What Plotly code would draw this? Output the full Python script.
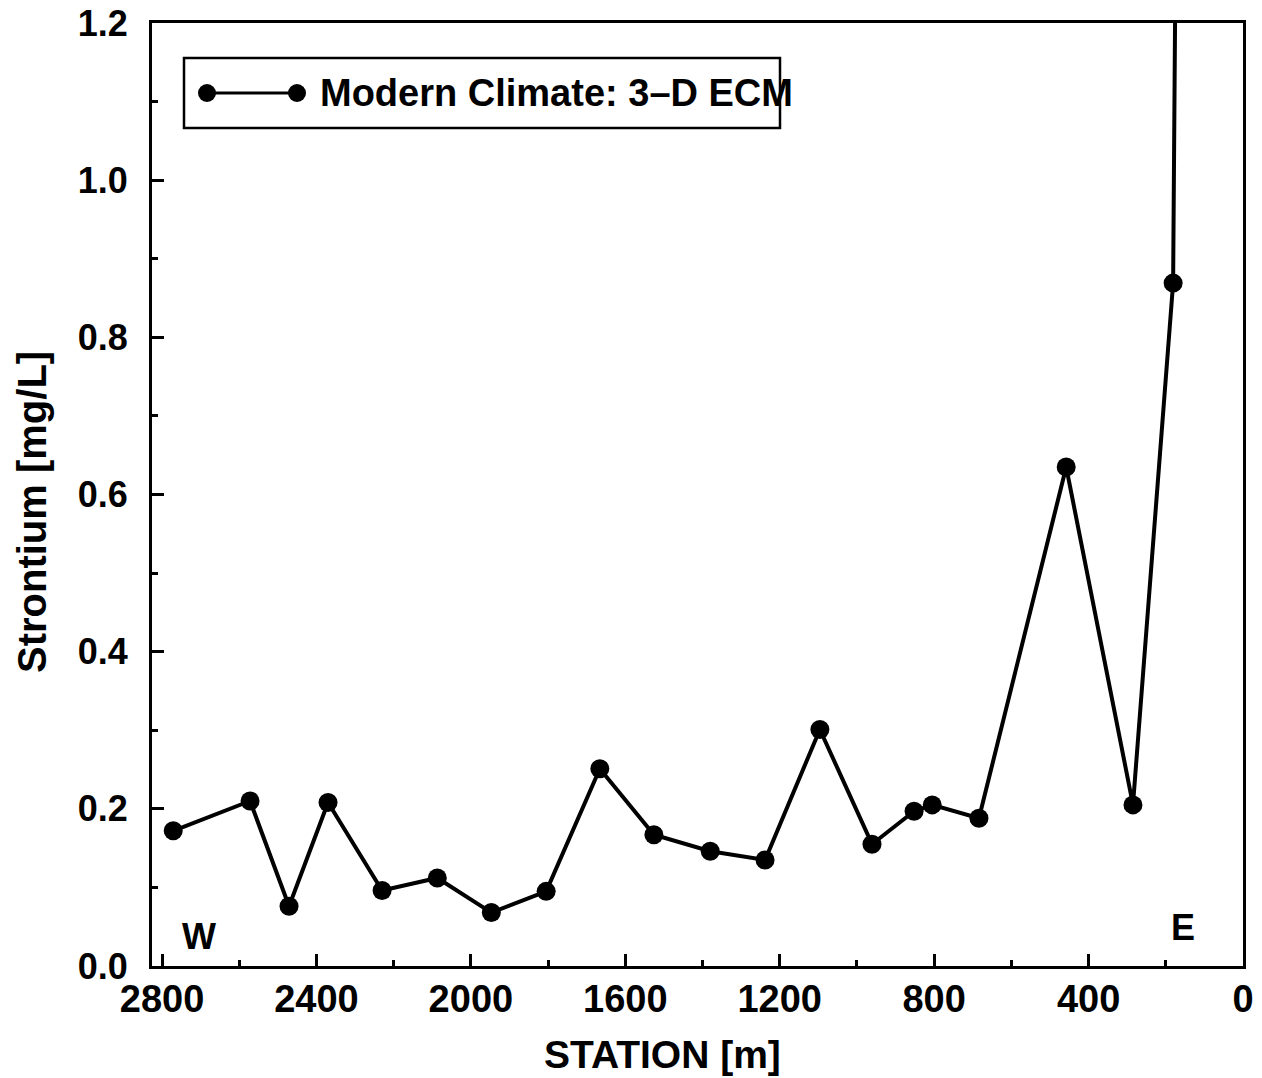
import plotly.graph_objects as go

station_m = [2771, 2572, 2471, 2370, 2230, 2087, 1947, 1805, 1666, 1526, 1380,
             1238, 1096, 961, 852, 805, 684, 458, 285, 181, 170]
strontium_mgL = [0.172, 0.210, 0.076, 0.208, 0.096, 0.112, 0.068, 0.095, 0.251,
                 0.167, 0.146, 0.135, 0.301, 0.155, 0.197, 0.205, 0.188, 0.635,
                 0.205, 0.869, 1.60]
series_name = "Modern Climate: 3\u2013D ECM"
x_tickvals = [2800, 2400, 2000, 1600, 1200, 800, 400, 0]
y_tickvals = [0.0, 0.2, 0.4, 0.6, 0.8, 1.0, 1.2]

FONT = "Liberation Sans, Arial, Helvetica, sans-serif"

fig = go.Figure()
fig.add_trace(go.Scatter(
    x=station_m, y=strontium_mgL, mode="lines+markers", name=series_name,
    line=dict(color="black", width=4),
    marker=dict(color="black", size=19),
    showlegend=False,
))

L, R, T, B = 152, 19, 23, 112
W, H = 1262, 1078
pw, ph = W - L - R, H - T - B

def px(xpix):
    return (xpix - L) / pw

def py(ypix):
    return (H - B - ypix) / ph

fig.update_layout(
    width=W, height=H,
    margin=dict(l=L, r=R, t=T, b=B, pad=0, autoexpand=False),
    paper_bgcolor="white", plot_bgcolor="white",
    font=dict(family=FONT, color="black"),
    xaxis=dict(
        range=[2826, 0], tickvals=x_tickvals, ticktext=[str(v) for v in x_tickvals],
        ticks="inside", ticklen=12, tickwidth=2.5, tickcolor="black",
        minor=dict(dtick=200, ticks="inside", ticklen=6, tickwidth=2.5, tickcolor="black"),
        showline=True, linewidth=3, linecolor="black", mirror=True,
        showgrid=False, zeroline=False, automargin=False,
        tickfont=dict(family=FONT, size=38, color="black", weight="bold"),
        ticklabelstandoff=-3,
    ),
    yaxis=dict(
        range=[0, 1.2], tickvals=y_tickvals, tickformat=".1f",
        ticks="inside", ticklen=12, tickwidth=2.5, tickcolor="black",
        minor=dict(dtick=0.1, ticks="inside", ticklen=6, tickwidth=2.5, tickcolor="black"),
        showline=True, linewidth=3, linecolor="black", mirror=True,
        showgrid=False, zeroline=False, automargin=False,
        tickfont=dict(family=FONT, size=36, color="black", weight="bold"),
        ticklabelstandoff=14,
    ),
)

# axis titles
fig.add_annotation(text="<b>STATION [m]</b>", x=px(662), y=py(1054), xref="paper", yref="paper",
                   showarrow=False, xanchor="center", yanchor="middle",
                   font=dict(family=FONT, size=39, color="black"))
fig.add_annotation(text="<b>Strontium [mg/L]</b>", x=px(32), y=py(512), xref="paper", yref="paper",
                   showarrow=False, xanchor="center", yanchor="middle", textangle=-90,
                   font=dict(family=FONT, size=40, color="black"))

# W / E labels
fig.add_annotation(text="<b>W</b>", x=px(199), y=py(936), xref="paper", yref="paper",
                   showarrow=False, xanchor="center", yanchor="middle",
                   font=dict(family=FONT, size=36, color="black"))
fig.add_annotation(text="<b>E</b>", x=px(1183), y=py(927), xref="paper", yref="paper",
                   showarrow=False, xanchor="center", yanchor="middle",
                   font=dict(family=FONT, size=36, color="black"))

# manual legend box
fig.add_shape(type="rect", xref="paper", yref="paper",
              x0=px(184), x1=px(780), y0=py(128), y1=py(58),
              line=dict(color="black", width=2.5), fillcolor="white", layer="above")
ly = py(93)
fig.add_shape(type="line", xref="paper", yref="paper", x0=px(207), x1=px(297), y0=ly, y1=ly,
              line=dict(color="black", width=3), layer="above")
for cx in (207, 297):
    fig.add_shape(type="circle", xref="paper", yref="paper",
                  xsizemode="pixel", ysizemode="pixel",
                  xanchor=px(cx), yanchor=ly, x0=-9, x1=9, y0=-9, y1=9,
                  line=dict(color="black", width=0), fillcolor="black", layer="above")
fig.add_annotation(text="<b>" + series_name + "</b>", x=px(318), y=ly, xref="paper", yref="paper",
                   showarrow=False, xanchor="left", yanchor="middle",
                   font=dict(family=FONT, size=38, color="black"))

fig.write_html("out.html", config={"displayModeBar": False},
               post_script="document.body.style.margin='0';document.body.style.overflow='hidden';")
